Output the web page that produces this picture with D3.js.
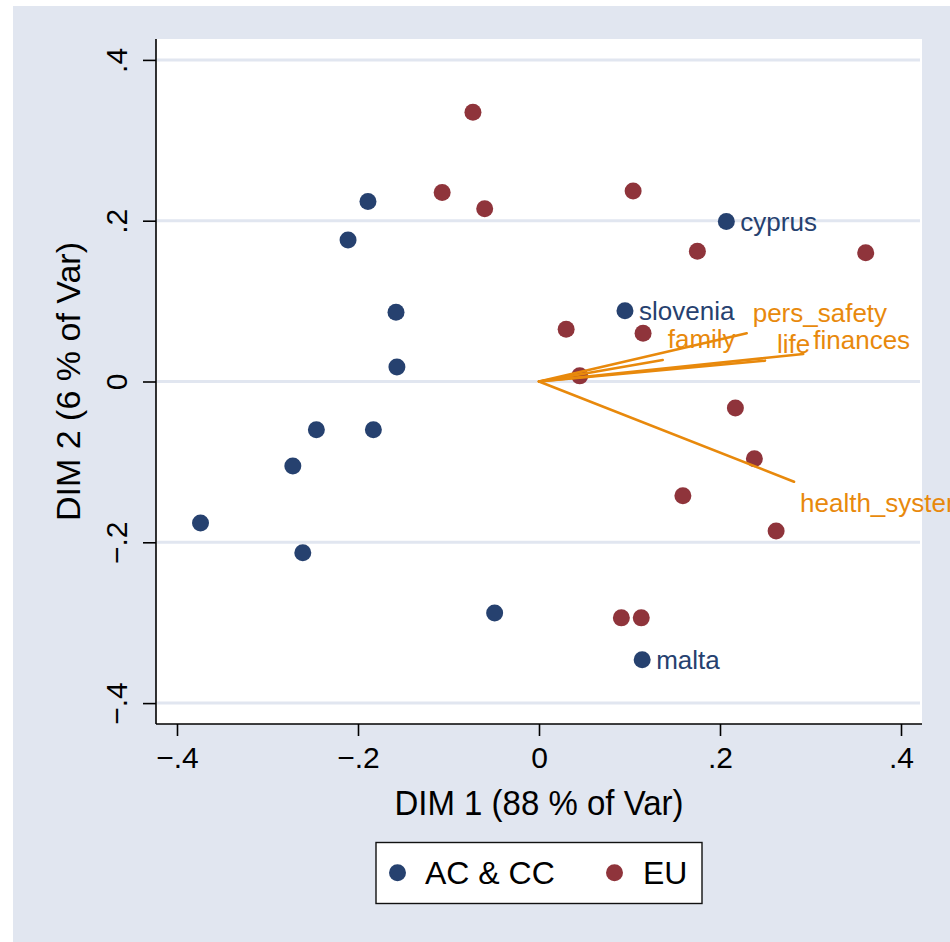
<!DOCTYPE html>
<html>
<head>
<meta charset="utf-8">
<script src="https://cdn.jsdelivr.net/npm/d3@7/dist/d3.min.js"></script>
<style>
  html, body { margin: 0; padding: 0; background: #ffffff; }
  svg { display: block; }
  text { font-family: "Liberation Sans", Arial, Helvetica, sans-serif; }
</style>
</head>
<body>
<svg id="chart" width="950" height="942"></svg>
<script>
// ---- Data ----
const acX = [-0.189, -0.211, -0.158, -0.157, -0.246, -0.183, -0.272, -0.374, -0.261, -0.049, 0.207, 0.095, 0.114];
const acY = [0.224, 0.176, 0.086, 0.018, -0.060, -0.060, -0.105, -0.176, -0.213, -0.288, 0.199, 0.088, -0.346];
const acLabels = ["", "", "", "", "", "", "", "", "", "", "cyprus", "slovenia", "malta"];

const euX = [-0.073, -0.107, -0.060, 0.104, 0.175, 0.361, 0.030, 0.115, 0.045, 0.217, 0.238, 0.159, 0.262, 0.091, 0.113];
const euY = [0.335, 0.235, 0.215, 0.237, 0.162, 0.160, 0.065, 0.060, 0.007, -0.033, -0.096, -0.142, -0.186, -0.294, -0.294];

const varNames = ["pers_safety", "family", "life", "finances", "health_system"];
const varX = [0.2295, 0.1367, 0.2497, 0.2920, 0.2818];
const varY = [0.0600, 0.0267, 0.0259, 0.0342, -0.1246];

const xTicks = [-0.4, -0.2, 0, 0.2, 0.4];
const xTickLabels = ["\u2212.4", "\u2212.2", "0", ".2", ".4"];
const yTicks = [-0.4, -0.2, 0, 0.2, 0.4];
const yTickLabels = ["\u2212.4", "\u2212.2", "0", ".2", ".4"];

const seriesNames = ["AC & CC", "EU"];
const xTitle = "DIM 1 (88 % of Var)";
const yTitle = "DIM 2 (6 % of Var)";

// ---- Layout / style (not data) ----
const navy = "#26416f";
const maroon = "#8f343b";
const orange = "#e8890c";
const bg = "#e1e6f0";
const gridCol = "#e1e6f0";
// label offsets (px) from the arrow tip, per variable label
const varLabelOffset = {
  pers_safety: [6, -11], family: [5, -12], life: [12, -8], finances: [10, -5], health_system: [6, 30]
};

const svg = d3.select("#chart");

// outer graph region
svg.append("rect").attr("x", 13).attr("y", 6).attr("width", 937).attr("height", 936).attr("fill", bg);

const plot = { left: 156, right: 922, top: 39, bottom: 724 };
svg.append("rect").attr("x", plot.left).attr("y", plot.top)
  .attr("width", plot.right - plot.left).attr("height", plot.bottom - plot.top).attr("fill", "#ffffff");

const x = d3.scaleLinear().domain([-0.4232, 0.4232]).range([plot.left, plot.right]);
const y = d3.scaleLinear().domain([-0.426, 0.426]).range([plot.bottom, plot.top]);

// gridlines
svg.append("g").selectAll("line").data(yTicks).join("line")
  .attr("x1", plot.left + 1).attr("x2", plot.right - 2)
  .attr("y1", d => y(d)).attr("y2", d => y(d))
  .attr("stroke", gridCol).attr("stroke-width", 3);

// axes
const xAxis = d3.axisBottom(x).tickValues(xTicks).tickSize(12)
  .tickFormat((d, i) => xTickLabels[i]);
const gx = svg.append("g").attr("transform", `translate(0,${plot.bottom})`).call(xAxis);
gx.select(".domain").attr("d", `M${plot.left},0H${plot.right}`).attr("stroke", "#000").attr("stroke-width", 1.6);
gx.selectAll(".tick line").attr("stroke", "#000").attr("stroke-width", 1.6);
gx.selectAll(".tick text").attr("y", 44).attr("dy", 0).attr("fill", "#000")
  .style("font-size", "30px").style("font-family", "'Liberation Sans', Arial, sans-serif");

const yAxis = d3.axisLeft(y).tickValues(yTicks).tickSize(13)
  .tickFormat((d, i) => yTickLabels[i]);
const gy = svg.append("g").attr("transform", `translate(${plot.left},0)`).call(yAxis);
gy.select(".domain").attr("d", `M0,${plot.top}V${plot.bottom}`).attr("stroke", "#000").attr("stroke-width", 1.6);
gy.selectAll(".tick line").attr("stroke", "#000").attr("stroke-width", 1.6);
gy.selectAll(".tick text").attr("x", 0).attr("y", 0).attr("dy", 0)
  .attr("transform", "translate(-29,0) rotate(-90)")
  .attr("text-anchor", "middle").attr("fill", "#000")
  .style("font-size", "30px").style("font-family", "'Liberation Sans', Arial, sans-serif");

// axis titles
svg.append("text").attr("transform", `translate(${(plot.left + plot.right) / 2},815) scale(1,1.05)`)
  .attr("text-anchor", "middle").style("font-size", "33px").attr("fill", "#000").text(xTitle);
svg.append("text").attr("transform", `translate(80,${(plot.top + plot.bottom) / 2}) rotate(-90)`)
  .attr("text-anchor", "middle").style("font-size", "34px").attr("fill", "#000").text(yTitle);

// points
const acData = acX.map((v, i) => ({ x: v, y: acY[i], label: acLabels[i] }));
const euData = euX.map((v, i) => ({ x: v, y: euY[i] }));
const r = 8.5;

svg.append("g").selectAll("circle").data(acData).join("circle")
  .attr("cx", d => x(d.x)).attr("cy", d => y(d.y)).attr("r", r).attr("fill", navy);
svg.append("g").selectAll("circle").data(euData).join("circle")
  .attr("cx", d => x(d.x)).attr("cy", d => y(d.y)).attr("r", r).attr("fill", maroon);

svg.append("g").selectAll("text").data(acData.filter(d => d.label)).join("text")
  .attr("x", d => x(d.x) + 14).attr("y", d => y(d.y) + 9)
  .style("font-size", "26px").attr("fill", navy).text(d => d.label);

// variable arrows
const varData = varNames.map((n, i) => ({ name: n, x: varX[i], y: varY[i] }));
svg.append("g").selectAll("line").data(varData).join("line")
  .attr("x1", x(0)).attr("y1", y(0))
  .attr("x2", d => x(d.x)).attr("y2", d => y(d.y))
  .attr("stroke", orange).attr("stroke-width", 2.6).attr("stroke-linecap", "round");
svg.append("g").selectAll("text").data(varData).join("text")
  .attr("x", d => x(d.x) + varLabelOffset[d.name][0])
  .attr("y", d => y(d.y) + varLabelOffset[d.name][1])
  .style("font-size", "26px").attr("fill", orange).text(d => d.name);

// legend
const lg = svg.append("g");
lg.append("rect").attr("x", 376).attr("y", 842.5).attr("width", 326).attr("height", 61)
  .attr("fill", "#fff").attr("stroke", "#111").attr("stroke-width", 1.4);
const legendItems = [
  { name: seriesNames[0], color: navy, cx: 397.5, tx: 425 },
  { name: seriesNames[1], color: maroon, cx: 614.5, tx: 643 }
];
lg.selectAll("circle").data(legendItems).join("circle")
  .attr("cx", d => d.cx).attr("cy", 872.7).attr("r", r).attr("fill", d => d.color);
lg.selectAll("text").data(legendItems).join("text")
  .attr("x", d => d.tx).attr("y", 884).style("font-size", "32px").attr("fill", "#000").text(d => d.name);
</script>
</body>
</html>
